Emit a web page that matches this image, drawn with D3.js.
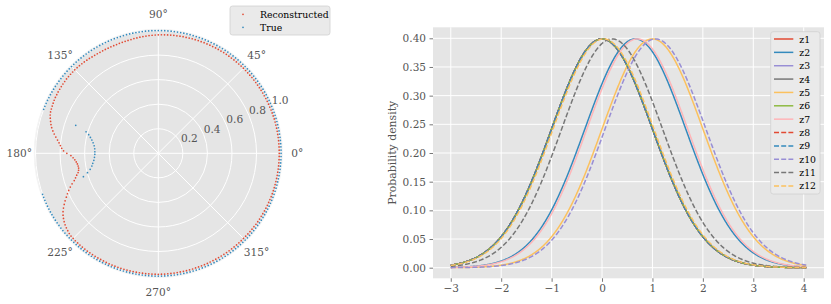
<!DOCTYPE html>
<html><head><meta charset="utf-8">
<script src="https://cdn.jsdelivr.net/npm/d3@7"></script>
<style>body{margin:0;background:#fff} text{font-family:"DejaVu Serif",serif}</style>
</head><body><svg id="c" width="831" height="304"></svg>
<script>
// ---------- DATA ----------
// Polar scatter: points sampled on a uniform angle grid (degrees)
const angleStepDeg = 1.5;
const reconR = [
0.985,0.985,0.985,0.985,0.985,0.985,0.985,0.985,0.985,0.985,
0.985,0.985,0.984,0.984,0.984,0.983,0.983,0.983,0.983,0.982,
0.982,0.982,0.982,0.981,0.981,0.981,0.981,0.980,0.980,0.980,
0.980,0.980,0.979,0.979,0.979,0.978,0.978,0.978,0.978,0.977,
0.977,0.977,0.976,0.976,0.975,0.975,0.974,0.974,0.973,0.973,
0.972,0.971,0.971,0.970,0.969,0.969,0.968,0.967,0.966,0.966,
0.965,0.964,0.963,0.962,0.960,0.959,0.958,0.956,0.955,0.953,
0.952,0.951,0.950,0.950,0.949,0.949,0.949,0.949,0.950,0.950,
0.950,0.951,0.952,0.953,0.955,0.956,0.958,0.959,0.960,0.961,
0.962,0.962,0.962,0.962,0.962,0.961,0.960,0.959,0.958,0.957,
0.955,0.954,0.952,0.949,0.946,0.943,0.940,0.934,0.925,0.915,
0.905,0.893,0.878,0.862,0.845,0.828,0.813,0.800,0.788,0.772,
0.745,0.712,0.695,0.682,0.672,0.665,0.661,0.660,0.664,0.672,
0.688,0.703,0.720,0.745,0.768,0.790,0.810,0.830,0.852,0.872,
0.892,0.910,0.925,0.937,0.948,0.957,0.964,0.970,0.976,0.980,
0.981,0.982,0.982,0.983,0.983,0.983,0.984,0.984,0.984,0.984,
0.984,0.984,0.984,0.985,0.985,0.985,0.985,0.985,0.985,0.985,
0.985,0.985,0.985,0.985,0.985,0.985,0.985,0.985,0.985,0.985,
0.985,0.985,0.985,0.984,0.984,0.984,0.984,0.983,0.983,0.983,
0.983,0.983,0.982,0.982,0.982,0.982,0.982,0.981,0.981,0.981,
0.981,0.981,0.981,0.981,0.981,0.981,0.981,0.981,0.981,0.981,
0.981,0.981,0.982,0.982,0.982,0.982,0.983,0.983,0.983,0.983,
0.983,0.984,0.984,0.984,0.984,0.984,0.985,0.985,0.985,0.985,
0.985,0.985,0.985,0.985,0.985,0.985,0.985,0.985,0.985,0.985
];
const trueR = [
1,1,1,1,1,1,1,1,1,1,1,1,1,1,1,1,1,1,1,1,
1,1,1,1,1,1,1,1,1,1,1,1,1,1,1,1,1,1,1,1,
1,1,1,1,1,1,1,1,1,1,1,1,1,1,1,1,1,1,1,1,
1,1,1,1,1,1,1,1,1,1,1,1,1,1,1,1,1,1,1,1,
1,1,1,1,1,1,1,1,1,1,1,1,1,1,1,1,1,1,1,1,
1,1,1,1,1,1,1,null,null,null,null,null,null,null,null,null,null,null,null,null,
null,null,null,null,null,null,null,null,null,null,null,null,null,1,1,1,1,1,1,1,
1,1,1,1,1,1,1,1,1,1,1,1,1,1,1,1,1,1,1,1,
1,1,1,1,1,1,1,1,1,1,1,1,1,1,1,1,1,1,1,1,
1,1,1,1,1,1,1,1,1,1,1,1,1,1,1,1,1,1,1,1,
1,1,1,1,1,1,1,1,1,1,1,1,1,1,1,1,1,1,1,1,
1,1,1,1,1,1,1,1,1,1,1,1,1,1,1,1,1,1,1,1
];
const trueDentTheta = [161.3,163.4,165.0,166.8,168.7,170.8,173.3,175.9,178.6,180.9,183.6,186.2,188.7,190.8,193.2,195.3,197.3];
const trueDentR     = [0.710,0.614,0.587,0.568,0.552,0.538,0.526,0.519,0.517,0.517,0.521,0.528,0.540,0.551,0.570,0.598,0.639];
const polarRTicks = [0.2,0.4,0.6,0.8,1.0];
const polarThetaTicks = [0,45,90,135,180,225,270,315];
const polarLegend = ["Reconstructed","True"];

// Density curves: normal pdfs, parameters read from the peaks
const seriesNames = ["z1","z2","z3","z4","z5","z6","z7","z8","z9","z10","z11","z12"];
const seriesMeans = [0.00,0.66,0.00,0.00,1.00,0.00,0.70,0.00,0.00,1.06,0.20,0.03];
const seriesSD    = [1,1,1,1,1,1,1,1,1,1,1,1];
const xRange = [-3, 4.05];
const xTicks = [-3,-2,-1,0,1,2,3,4];
const yTicks = [0,0.05,0.10,0.15,0.20,0.25,0.30,0.35,0.40];
const yLabel = "Probability density";

// ---------- STYLE ----------
const palette = ['#E24A33','#348ABD','#988ED5','#777777','#FBC15E','#8EBA42','#FFB5B8'];
const BG = '#E5E5E5', TXT = '#555555';

const svg = d3.select("#c");

// ---------- POLAR ----------
const cx = 158.3, cy = 153.3, R = 124, rMax = 1.01;
const rs = d3.scaleLinear().domain([0, rMax]).range([0, R]);
const toRad = d => d * Math.PI / 180;
const px = (deg, r) => cx + rs(r) * Math.cos(toRad(deg));
const py = (deg, r) => cy - rs(r) * Math.sin(toRad(deg));
const gp = svg.append("g");
gp.append("circle").attr("cx", cx).attr("cy", cy).attr("r", R).attr("fill", BG);
polarRTicks.forEach(t => gp.append("circle").attr("cx", cx).attr("cy", cy).attr("r", rs(t))
  .attr("fill", "none").attr("stroke", "#fff").attr("stroke-width", 1));
polarThetaTicks.forEach(a => gp.append("line").attr("x1", cx).attr("y1", cy)
  .attr("x2", px(a, rMax)).attr("y2", py(a, rMax)).attr("stroke", "#fff").attr("stroke-width", 1));
gp.append("circle").attr("cx", cx).attr("cy", cy).attr("r", R).attr("fill", "none")
  .attr("stroke", "#f4f4f4").attr("stroke-width", 1.2);
// radial labels
polarRTicks.forEach(t => gp.append("text").attr("x", px(22.5, t)).attr("y", py(22.5, t) - 2)
  .attr("font-size", 10.6).attr("fill", TXT).text(t.toFixed(1)));
// angle labels
polarThetaTicks.forEach(a => gp.append("text")
  .attr("x", cx + (R + 15) * Math.cos(toRad(a))).attr("y", cy - (R + 15) * Math.sin(toRad(a)))
  .attr("text-anchor", "middle").attr("dominant-baseline", "central")
  .attr("font-size", 10.6).attr("fill", TXT).text(a + "°"));
// points
const reconPts = reconR.map((r, i) => ({ t: i * angleStepDeg, r }));
const truePts = trueR.map((r, i) => ({ t: i * angleStepDeg, r })).filter(d => d.r !== null)
  .concat(trueDentTheta.map((t, i) => ({ t, r: trueDentR[i] })));
gp.append("g").selectAll("circle").data(reconPts).join("circle")
  .attr("cx", d => px(d.t, d.r)).attr("cy", d => py(d.t, d.r)).attr("r", 0.85).attr("fill", palette[0]);
gp.append("g").selectAll("circle").data(truePts).join("circle")
  .attr("cx", d => px(d.t, d.r)).attr("cy", d => py(d.t, d.r)).attr("r", 0.85).attr("fill", palette[1]);
// legend
const lg = svg.append("g");
lg.append("rect").attr("x", 230).attr("y", 6).attr("width", 100).attr("height", 29).attr("rx", 2.5)
  .attr("fill", "#EAEAEA").attr("stroke", "#d0d0d0").attr("stroke-width", 0.8);
polarLegend.forEach((n, i) => {
  const yy = 14.3 + i * 13;
  lg.append("circle").attr("cx", 243).attr("cy", yy).attr("r", 0.85).attr("fill", palette[i]);
  lg.append("text").attr("x", 260).attr("y", yy).attr("dominant-baseline", "central")
    .attr("font-size", 9.3).attr("fill", "#000").text(n);
});

// ---------- DENSITY CHART ----------
const x = d3.scaleLinear().domain([-3.3525, 4.4025]).range([433, 824]);
const y = d3.scaleLinear().domain([-0.0185, 0.4192]).range([278.3, 27.3]);
const gc = svg.append("g");
gc.append("rect").attr("x", 433).attr("y", 27.3).attr("width", 391).attr("height", 251).attr("fill", BG);
xTicks.forEach(t => gc.append("line").attr("x1", x(t)).attr("x2", x(t)).attr("y1", 27.3).attr("y2", 278.3)
  .attr("stroke", "#fff").attr("stroke-width", 1));
yTicks.forEach(t => gc.append("line").attr("y1", y(t)).attr("y2", y(t)).attr("x1", 433).attr("x2", 824)
  .attr("stroke", "#fff").attr("stroke-width", 1));
const ax = gc.append("g").attr("transform", "translate(0,278.3)")
  .call(d3.axisBottom(x).tickValues(xTicks).tickSize(3.5).tickPadding(3.2).tickFormat(d3.format("d")));
const ay = gc.append("g").attr("transform", "translate(433,0)")
  .call(d3.axisLeft(y).tickValues(yTicks).tickSize(3.5).tickPadding(3.5).tickFormat(d3.format(".2f")));
[ax, ay].forEach(a => {
  a.select(".domain").remove();
  a.selectAll("line").attr("stroke", TXT).attr("stroke-width", 0.8);
  a.selectAll("text").attr("fill", TXT).attr("font-size", 10.5).attr("font-family", "DejaVu Serif");
});
gc.append("text").attr("transform", "translate(392.7,152.8) rotate(-90)").attr("text-anchor", "middle")
  .attr("dominant-baseline", "central").attr("font-size", 10.9).attr("fill", TXT).text(yLabel);

const xs = d3.range(xRange[0], xRange[1] + 1e-9, 0.01);
const pdf = (v, m, s) => Math.exp(-0.5 * ((v - m) / s) ** 2) / (s * Math.sqrt(2 * Math.PI));
const line = d3.line().x(d => x(d[0])).y(d => y(d[1]));
seriesNames.forEach((n, i) => {
  gc.append("path").datum(xs.map(v => [v, pdf(v, seriesMeans[i], seriesSD[i])]))
    .attr("d", line).attr("fill", "none").attr("stroke", palette[i % 7]).attr("stroke-width", 1.5)
    .attr("stroke-dasharray", i >= 7 ? "5,2.2" : null);
});
// legend
const lr = svg.append("g");
lr.append("rect").attr("x", 770.7).attr("y", 31.7).attr("width", 49.3).attr("height", 162.3).attr("rx", 2.5)
  .attr("fill", "#EAEAEA").attr("stroke", "#d0d0d0").attr("stroke-width", 0.8);
seriesNames.forEach((n, i) => {
  const yy = 39 + i * 13.36;
  lr.append("line").attr("x1", 774).attr("x2", 793.3).attr("y1", yy).attr("y2", yy)
    .attr("stroke", palette[i % 7]).attr("stroke-width", 1.5).attr("stroke-dasharray", i >= 7 ? "5,2.2" : null);
  lr.append("text").attr("x", 799.3).attr("y", yy).attr("dominant-baseline", "central")
    .attr("font-size", 9.3).attr("fill", "#000").text(n);
});
</script></body></html>
